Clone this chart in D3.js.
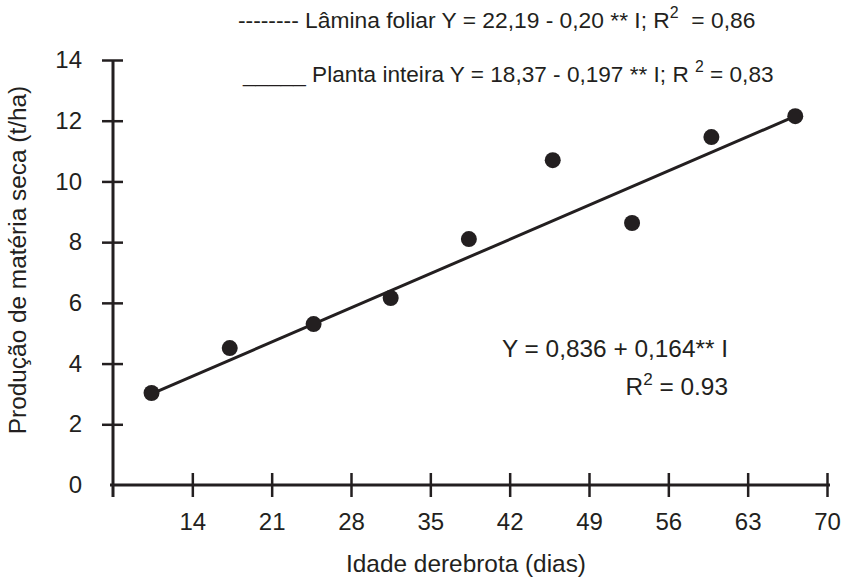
<!DOCTYPE html>
<html>
<head>
<meta charset="utf-8">
<script src="https://cdn.jsdelivr.net/npm/d3@7"></script>
<style>
  html, body { margin: 0; padding: 0; background: #fff; }
  svg text { font-family: "Liberation Sans", Arial, Helvetica, sans-serif; fill: #231f20; }
</style>
</head>
<body>
<svg id="chart" width="845" height="582"></svg>
<script>
// ---- data ----
const days = [10.4, 17.3, 24.7, 31.5, 38.4, 45.8, 52.8, 59.8, 67.2];
const production = [3.03, 4.51, 5.30, 6.16, 8.10, 10.70, 8.63, 11.46, 12.15];
const fitX = [10.4, 66.9];
const fitY = [3.0, 12.1];
const xTicks = [14, 21, 28, 35, 42, 49, 56, 63, 70];
const yTicks = [0, 2, 4, 6, 8, 10, 12, 14];
const xTitle = "Idade derebrota (dias)";
const yTitle = "Produção de matéria seca (t/ha)";
const legend1 = ["-------- Lâmina foliar Y = 22,19 - 0,20 ** I; R", "2", "  = 0,86"];
const legend2 = ["_____ Planta inteira Y = 18,37 - 0,197 ** I; R ", "2", " = 0,83"];
const eq1 = "Y = 0,836 + 0,164** I";
const eq2 = ["R", "2", " = 0.93"];

const ink = "#231f20";
const svg = d3.select("#chart");

const x = d3.scaleLinear().domain([7, 70]).range([113, 827]);
const y = d3.scaleLinear().domain([0, 14]).range([485, 60]);

// x axis
const gx = svg.append("g").attr("transform", `translate(0,${y(0)})`)
  .call(d3.axisBottom(x).tickValues(xTicks).tickFormat(d3.format("d")).tickSize(12).tickPadding(16));
gx.select(".domain").attr("d", `M${x(7) - 3},0H${x(70) + 3}`).attr("stroke", ink).attr("stroke-width", 3);
gx.selectAll(".tick line").attr("y1", -12).attr("y2", 12).attr("stroke", ink).attr("stroke-width", 2.5);
gx.selectAll(".tick text").attr("font-size", 24).attr("fill", ink).attr("font-family", "Liberation Sans, Arial, sans-serif");

// y axis
const gy = svg.append("g").attr("transform", `translate(${x(7)},0)`)
  .call(d3.axisLeft(y).tickValues(yTicks).tickFormat(d3.format("d")).tickSize(11).tickPadding(20));
gy.select(".domain").attr("d", `M0,${y(14)}V${y(0) + 12}`).attr("stroke", ink).attr("stroke-width", 3);
gy.selectAll(".tick line").attr("x1", -11).attr("x2", 10).attr("stroke", ink).attr("stroke-width", 2.5)
  .filter(d => d === 0).remove();
gy.selectAll(".tick text").attr("font-size", 24).attr("fill", ink).attr("font-family", "Liberation Sans, Arial, sans-serif");

// regression line
svg.append("line")
  .attr("x1", x(fitX[0])).attr("y1", y(fitY[0]))
  .attr("x2", x(fitX[1])).attr("y2", y(fitY[1]))
  .attr("stroke", ink).attr("stroke-width", 3);

// points
svg.selectAll("circle.pt").data(days.map((d, i) => [d, production[i]]))
  .join("circle").attr("class", "pt")
  .attr("cx", d => x(d[0])).attr("cy", d => y(d[1])).attr("r", 8).attr("fill", ink);

// axis titles
svg.append("text").attr("x", 466).attr("y", 572).attr("text-anchor", "middle")
  .attr("font-size", 24.4).text(xTitle);
svg.append("text").attr("transform", "translate(26,260) rotate(-90)").attr("text-anchor", "middle")
  .attr("font-size", 24.4).text(yTitle);

// legend lines with superscripts
function supText(xp, yp, parts, size, anchor) {
  const t = svg.append("text").attr("x", xp).attr("y", yp).attr("font-size", size)
    .attr("text-anchor", anchor || "start").attr("xml:space", "preserve").style("white-space", "pre");
  t.append("tspan").text(parts[0]);
  t.append("tspan").attr("dy", -10).attr("font-size", size * 0.7).text(parts[1]);
  t.append("tspan").attr("dy", 10).text(parts[2]);
  return t;
}
supText(238, 28, legend1, 22.8);
supText(243, 82, legend2, 22.6);

// equation annotation
svg.append("text").attr("x", 728).attr("y", 357).attr("text-anchor", "end")
  .attr("font-size", 24.4).text(eq1);
supText(728, 395, eq2, 24.4, "end");
</script>
</body>
</html>
